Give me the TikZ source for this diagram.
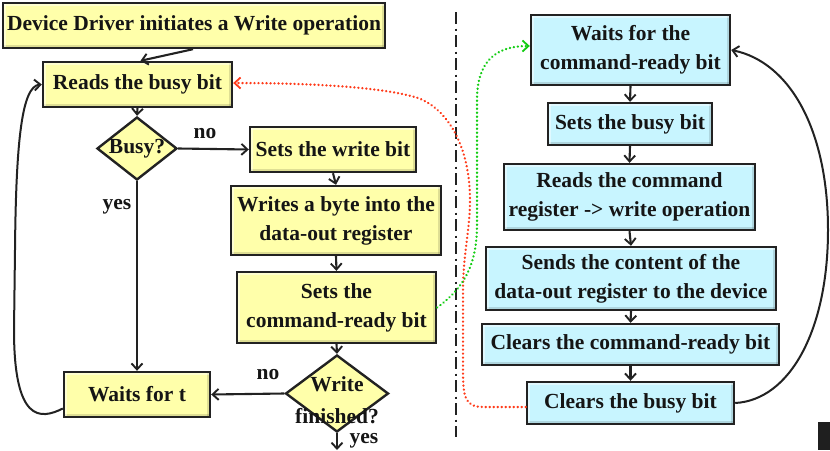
\documentclass[tikz,border=0pt]{standalone}
\usepackage{fontspec}
\setmainfont{Liberation Serif}
\usetikzlibrary{arrows.meta,shapes.geometric}

\definecolor{boxyellow}{HTML}{FFFFAA}
\definecolor{boxcyan}{HTML}{C8F5FF}
\definecolor{edgegray}{HTML}{222222}
\definecolor{reddot}{HTML}{FF3B1A}
\definecolor{greendot}{HTML}{12CC12}
\definecolor{inktext}{HTML}{151515}

\tikzset{
  bevel/.style={path picture={
      \fill[black,opacity=0.13] (path picture bounding box.south west) rectangle ([yshift=3pt]path picture bounding box.south east);
      \fill[black,opacity=0.13] ([xshift=-3pt]path picture bounding box.south east) rectangle (path picture bounding box.north east);
      \fill[white,opacity=0.45] (path picture bounding box.north west) rectangle ([yshift=-2.5pt]path picture bounding box.north east);
      \fill[white,opacity=0.45] (path picture bounding box.north west) rectangle ([xshift=2.5pt]path picture bounding box.south west);
  }},
  flowbox/.style={draw=edgegray, line width=2.4pt, inner sep=0pt, align=center, text=inktext, bevel},
  ybox/.style={flowbox, fill=boxyellow},
  cbox/.style={flowbox, fill=boxcyan},
  decision/.style={diamond, draw=edgegray, line width=2.4pt, fill=boxyellow, inner sep=0pt},
  link/.style={draw=edgegray, line width=2.1pt, -{Straight Barb[length=6pt,width=11pt,line width=1.9pt]}},
  loopline/.style={draw=edgegray, line width=2pt, -{Straight Barb[length=6pt,width=11pt,line width=1.9pt]}},
  handshake/.style={line width=2.5pt, line cap=round, dash pattern=on 0.1pt off 3.9pt,
                    -{Straight Barb[length=6pt,width=11pt,line width=1.8pt]}},
  branch/.style={text=inktext},
}

\begin{document}
\begin{tikzpicture}[x=1pt, y=-1pt, font=\fontsize{21.5}{29}\selectfont\bfseries]
  \useasboundingbox (0,0) rectangle (830,450);

  % ---- driver side ----
  \node[ybox, minimum width=382pt, minimum height=45pt] (dd) at (194,25.5) {Device Driver initiates a Write operation};
  \node[ybox, minimum width=189pt, minimum height=45pt] (rbb) at (137.5,84.5) {Reads the busy bit};
  \node[decision, minimum width=80pt, minimum height=63pt, label={[text=inktext]center:Busy?}] (busy) at (137,148.5) {};
  \node[ybox, minimum width=166pt, minimum height=45pt] (swb) at (333,149.5) {Sets the write bit};
  \node[ybox, minimum width=210pt, minimum height=69pt] (wby) at (336,220.5) {Writes a byte into the\\data-out register};
  \node[ybox, minimum width=199pt, minimum height=71pt] (scr) at (336.5,307.5) {Sets the\\command-ready bit};
  \node[decision, minimum width=103pt, minimum height=77pt] (wf) at (337,393.5) {};
  \node[align=center, text=inktext] (wftext) at (337,400) {Write\\[3pt]finished?};
  \node[ybox, minimum width=146pt, minimum height=45pt] (wt) at (137,394.5) {Waits for t};
  \coordinate (wfout) at (337,450);

  % ---- controller side ----
  \node[cbox, minimum width=199pt, minimum height=70pt] (wcr) at (630.5,50) {Waits for the\\command-ready bit};
  \node[cbox, minimum width=164pt, minimum height=42pt] (sbb) at (630,124) {Sets the busy bit};
  \node[cbox, minimum width=251pt, minimum height=66pt] (rcr) at (629.5,197) {Reads the command\\register -> write operation};
  \node[cbox, minimum width=290pt, minimum height=63pt] (sct) at (631,278.5) {Sends the content of the\\data-out register to the device};
  \node[cbox, minimum width=297pt, minimum height=41pt] (ccr) at (630.5,344.5) {Clears the command-ready bit};
  \node[cbox, minimum width=207pt, minimum height=42pt] (cbb) at (630.5,403) {Clears the busy bit};

  % separator between the two sides
  \coordinate (septop) at (456,12);
  \coordinate (sepbot) at (456,437);
  \draw[edgegray, line width=2.5pt, dash pattern=on 12pt off 4.5pt on 2pt off 4.5pt] (septop) -- (sepbot);

  % ---- driver flow ----
  \draw[link] ([xshift=-1pt]dd.south) -- ([xshift=3pt]rbb.north);
  \draw[link] (rbb.south) -- (busy.north);
  \draw[link] (busy.east) -- (swb.west);
  \draw[link] (busy.south) -- (wt.north);
  \draw[link] (swb.south) -- (wby.north);
  \draw[link] (wby.south) -- (scr.north);
  \draw[link] (scr.south) -- (wf.north);
  \draw[link] (wf.west) -- (wt.east);
  \draw[link] (wf.south) -- (wfout);
  \draw[loopline] ([yshift=-14pt]wt.west) .. controls (40,420) and (14,422) .. (14,330)
      -- (15,250) .. controls (16,140) and (22,86) .. (rbb.west);

  \node[branch] (lno1) at (205,134) {no};
  \node[branch] (lyes1) at (117,207) {yes};
  \node[branch] (lno2) at (268,375) {no};
  \node[branch] (lyes2) at (364,441) {yes};

  % ---- controller flow ----
  \draw[link] (wcr.south) -- (sbb.north);
  \draw[link] (sbb.south) -- (rcr.north);
  \draw[link] (rcr.south) -- (sct.north);
  \draw[link] (sct.south) -- (ccr.north);
  \draw[link] (ccr.south) -- (cbb.north);
  \draw[loopline] (cbb.east) .. controls (790,400) and (828,330) .. (828,230)
      .. controls (828,130) and (790,62) .. (wcr.east);

  % ---- handshake between the two sides ----
  \draw[handshake, reddot] ([yshift=-4pt]cbb.west) -- (484,407) .. controls (465,407) and (463,398) .. (463,370)
      -- (463,290) .. controls (463,255) and (470,230) .. (470,200)
      .. controls (470,150) and (450,110) .. (418,98)
      .. controls (380,86) and (300,83) .. ([yshift=1.5pt]rbb.east);
  \draw[handshake, greendot] (scr.east) .. controls (458,292) and (477,272) .. (477,225)
      -- (477,100) .. controls (477,62) and (495,46) .. ([yshift=4pt]wcr.west);

  % dark corner tab
  \fill[black!88] (818,422) rectangle (830,450);
\end{tikzpicture}
\end{document}
